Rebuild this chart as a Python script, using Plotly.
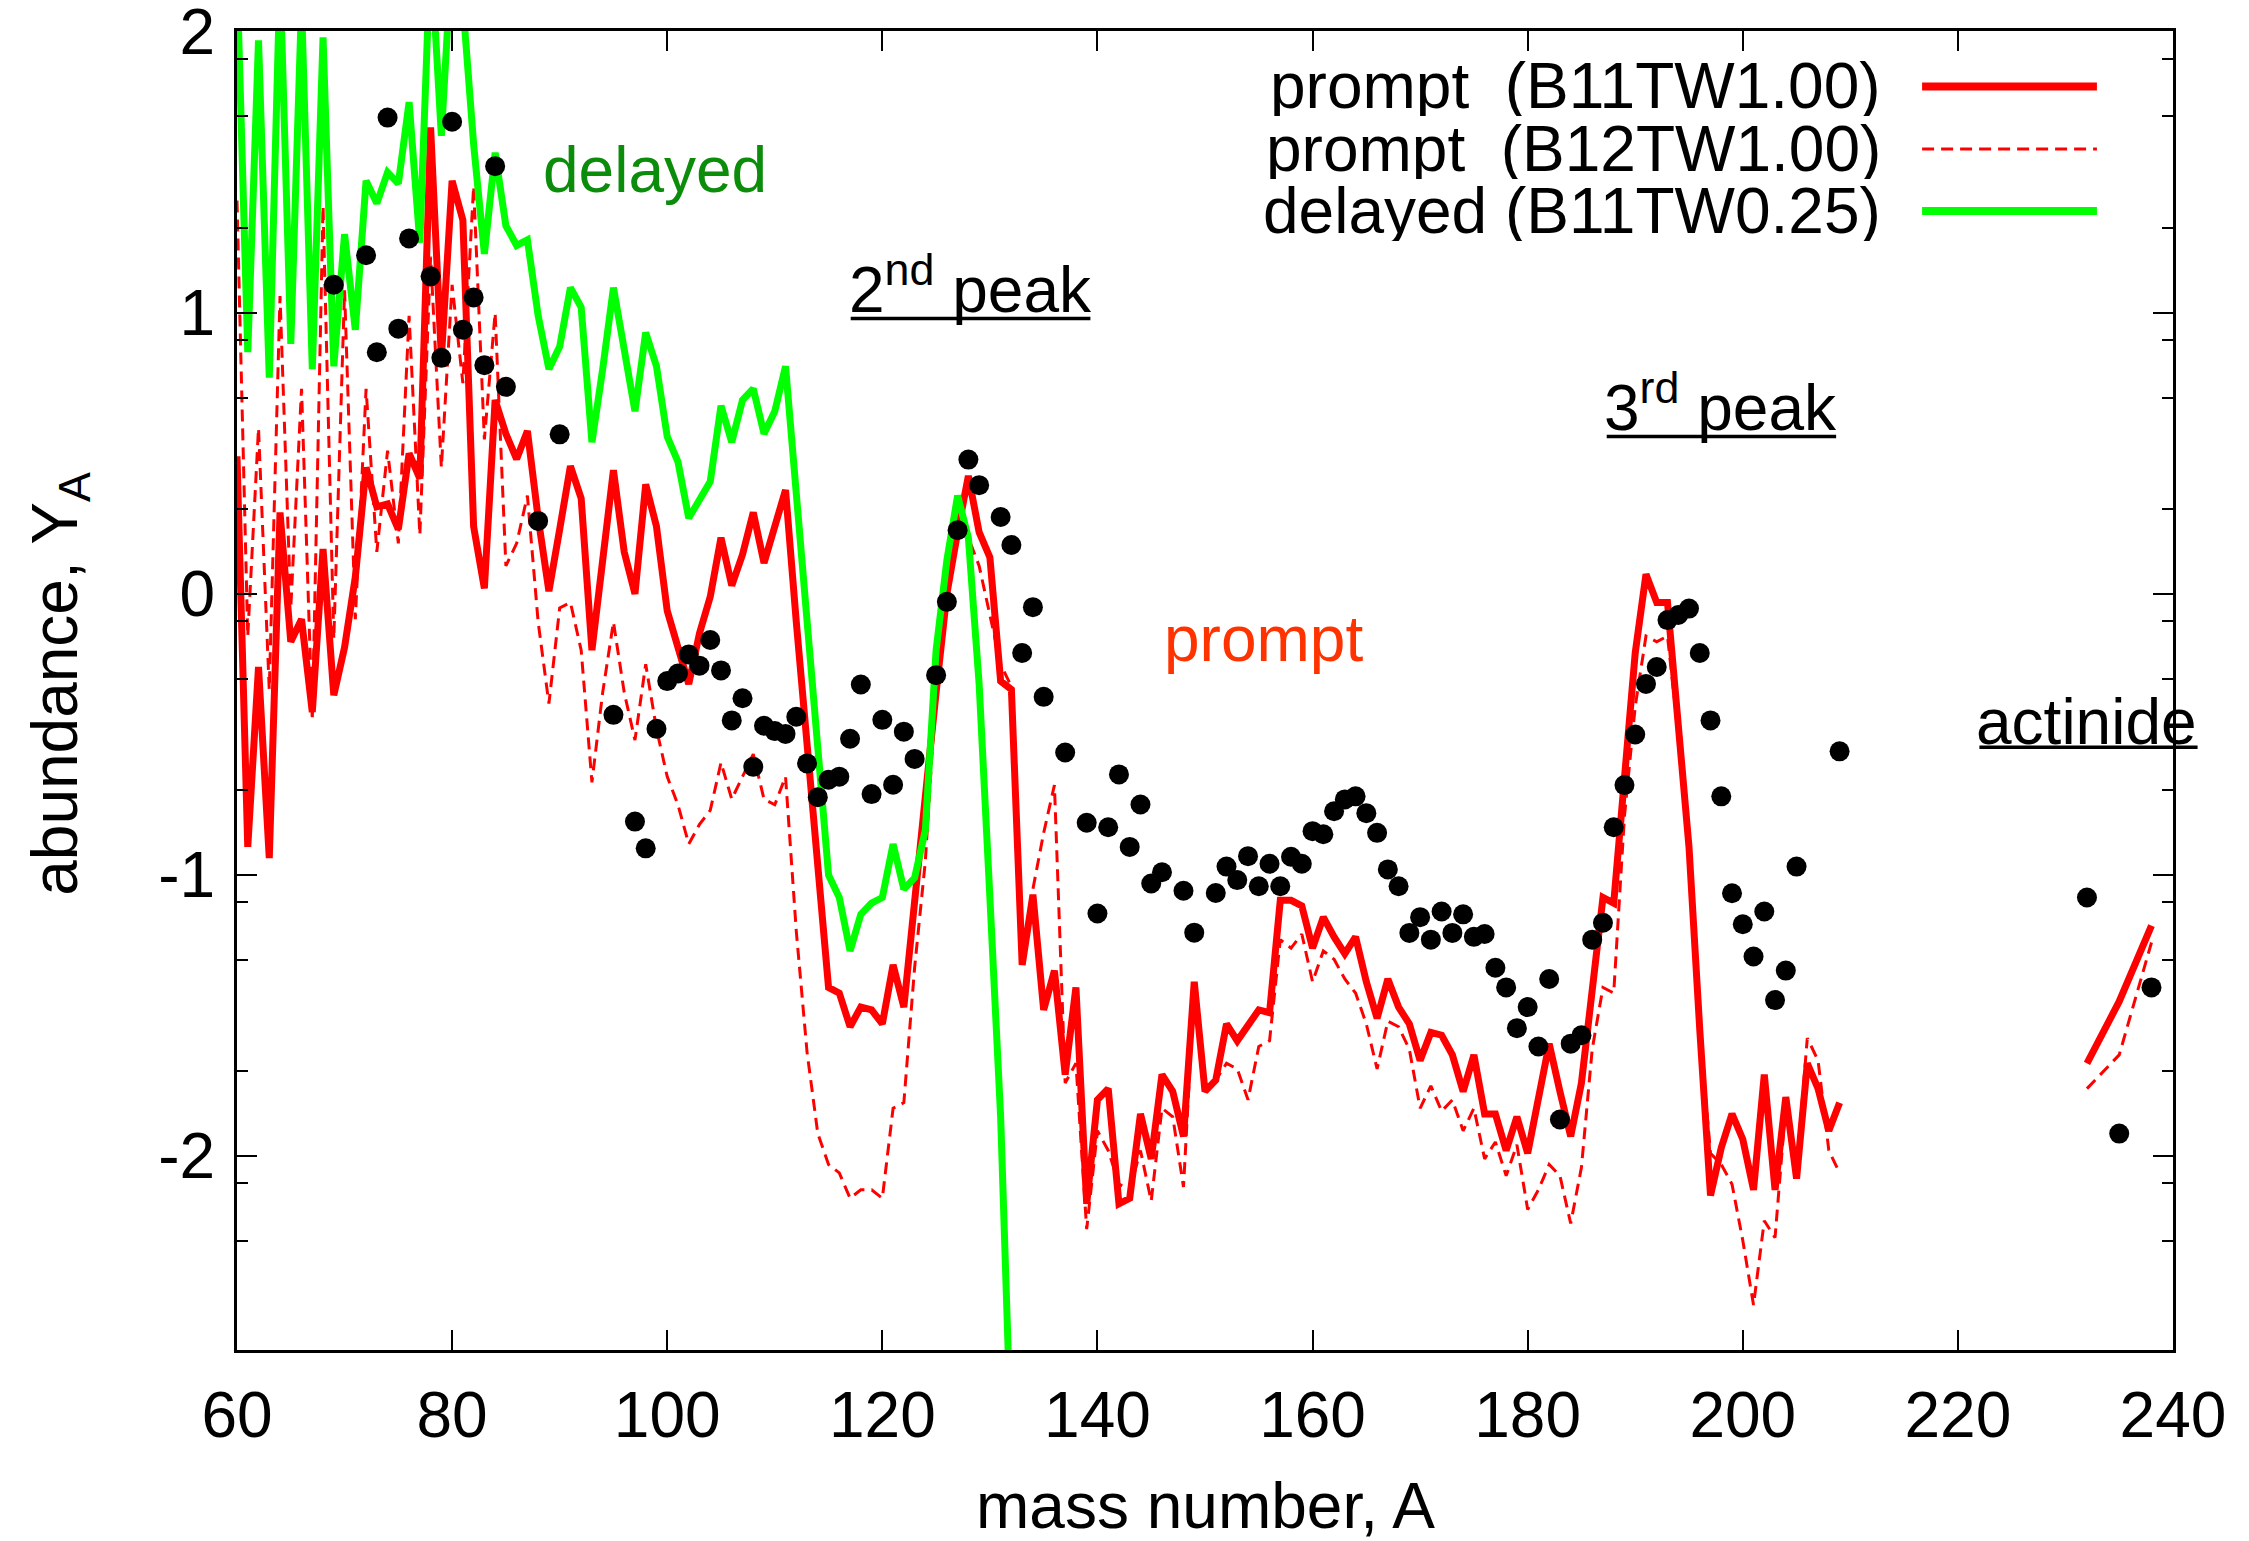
import plotly.graph_objects as go

# ---------------- data ----------------
A_main = list(range(60, 210))

# prompt r-process, model B11TW1.00 (log10 abundance)
prompt_b11 = [
    0.49, -0.90, -0.26, -0.94, 0.29, -0.17, -0.09, -0.42, 0.16, -0.36,
    -0.19, 0.06, 0.45, 0.31, 0.32, 0.23, 0.50, 0.41, 1.66, 0.84,
    1.47, 1.33, 0.24, 0.02, 0.69, 0.57, 0.48, 0.58, 0.27, 0.01,
    0.23, 0.455, 0.34, -0.20, 0.12, 0.44, 0.15, 0.00, 0.39, 0.24,
    -0.06, -0.18, -0.32, -0.14, -0.01, 0.20, 0.03, 0.14, 0.29, 0.11,
    0.23, 0.37, -0.10, -0.55, -1.00, -1.40, -1.42, -1.54, -1.47, -1.48,
    -1.53, -1.32, -1.47, -1.12, -0.72, -0.35, 0.00, 0.22, 0.42, 0.22,
    0.13, -0.31, -0.34, -1.32, -1.07, -1.48, -1.34, -1.71, -1.40, -2.17,
    -1.80, -1.76, -2.17, -2.15, -1.85, -2.01, -1.71, -1.77, -1.93, -1.38,
    -1.77, -1.73, -1.53, -1.59, -1.54, -1.48, -1.49, -1.09, -1.09, -1.11,
    -1.26, -1.15, -1.22, -1.28, -1.22, -1.38, -1.51, -1.37, -1.47, -1.53,
    -1.66, -1.56, -1.57, -1.64, -1.77, -1.64, -1.85, -1.85, -1.98, -1.86,
    -1.99, -1.80, -1.60, -1.77, -1.93, -1.74, -1.40, -1.08, -1.10, -0.65,
    -0.21, 0.07, -0.03, -0.03, -0.45, -0.90, -1.55, -2.14, -1.97, -1.85,
    -1.94, -2.12, -1.71, -2.12, -1.79, -2.08, -1.67, -1.76, -1.91, -1.81,
]

# prompt r-process, model B12TW1.00
prompt_b12 = [
    1.40, -0.15, 0.59, -0.34, 1.06, -0.05, 0.73, -0.45, 1.38, -0.16,
    1.08, -0.09, 0.73, 0.15, 0.51, 0.18, 0.99, 0.21, 1.20, 0.45,
    1.10, 0.75, 1.45, 0.55, 1.00, 0.10, 0.18, 0.35, -0.10, -0.39,
    -0.05, -0.03, -0.20, -0.67, -0.35, -0.10, -0.35, -0.52, -0.25, -0.48,
    -0.65, -0.75, -0.89, -0.82, -0.77, -0.60, -0.73, -0.65, -0.57, -0.73,
    -0.75, -0.65, -1.20, -1.63, -1.92, -2.03, -2.06, -2.15, -2.12, -2.12,
    -2.15, -1.83, -1.81, -1.33, -0.95, -0.33, 0.00, 0.25, 0.20, 0.10,
    -0.08, -0.25, -0.33, -1.30, -1.05, -0.85, -0.68, -1.74, -1.67, -2.26,
    -1.91, -1.98, -2.10, -2.12, -1.98, -2.16, -1.83, -1.86, -2.11, -1.40,
    -1.77, -1.73, -1.67, -1.69, -1.80, -1.61, -1.59, -1.23, -1.26, -1.21,
    -1.38, -1.27, -1.30, -1.37, -1.42, -1.53, -1.69, -1.52, -1.54, -1.62,
    -1.83, -1.75, -1.84, -1.80, -1.91, -1.83, -2.01, -1.95, -2.07, -1.96,
    -2.19, -2.12, -2.03, -2.07, -2.24, -2.04, -1.62, -1.40, -1.42, -0.79,
    -0.40, -0.15, -0.17, -0.15, -0.50, -0.92, -1.55, -1.99, -2.03, -2.10,
    -2.30, -2.53, -2.23, -2.29, -1.82, -2.05, -1.58, -1.66, -1.98, -2.06,
]

# actinide region of both prompt models
A_act = [232, 235, 238]
prompt_b11_act = [-1.67, -1.45, -1.18]
prompt_b12_act = [-1.76, -1.64, -1.24]

# delayed r-process, model B11TW0.25
A_delayed = list(range(60, 133))
delayed_b11 = [
    2.20, 0.86, 1.97, 0.77, 2.20, 0.89, 2.10, 0.80, 1.98, 0.81,
    1.28, 0.94, 1.47, 1.39, 1.50, 1.46, 1.75, 1.25, 2.30, 1.63,
    2.30, 2.10, 1.60, 1.21, 1.57, 1.31, 1.24, 1.26, 0.99, 0.80,
    0.88, 1.09, 1.02, 0.54, 0.80, 1.09, 0.87, 0.65, 0.93, 0.81,
    0.56, 0.47, 0.27, 0.33, 0.40, 0.67, 0.54, 0.69, 0.73, 0.57,
    0.65, 0.81, 0.35, -0.10, -0.55, -1.00, -1.08, -1.27, -1.14, -1.10,
    -1.08, -0.89, -1.05, -1.01, -0.84, -0.20, 0.12, 0.35, 0.20, -0.32,
    -1.08, -1.86, -3.05,
]

# solar-system r-process residuals
A_solar = [
    69, 72, 73, 74, 75, 76, 78, 79, 80, 81, 82, 83, 84, 85, 88, 90,
    95, 97, 98, 99, 100, 101, 102, 103, 104, 105, 106, 107, 108, 109,
    110, 111, 112, 113, 114, 115, 116, 117, 118, 119, 120, 121, 122, 123,
    125, 126, 127, 128, 129, 131, 132, 133, 134, 135, 137, 139, 140, 141,
    142, 143, 144, 145, 146, 148, 149, 151, 152, 153, 154, 155, 156, 157,
    158, 159, 160, 161, 162, 163, 164, 165, 166, 167, 168, 169, 170, 171,
    172, 173, 174, 175, 176, 177, 178, 179, 180, 181, 182, 183, 184, 185,
    186, 187, 188, 189, 190, 191, 192, 193, 194, 195, 196, 197, 198, 199,
    200, 201, 202, 203, 204, 205, 209, 232, 235, 238,
]
Y_solar = [
    1.10, 1.205, 0.86, 1.695, 0.944, 1.265, 1.13, 0.84, 1.68, 0.94, 1.055, 0.814, 1.522, 0.737, 0.26, 0.568,
    -0.43, -0.81, -0.905, -0.48, -0.31, -0.283, -0.215, -0.255, -0.164, -0.272, -0.45, -0.371, -0.615, -0.469,
    -0.488, -0.498, -0.437, -0.603, -0.723, -0.661, -0.65, -0.515, -0.322, -0.712, -0.448, -0.679, -0.49, -0.587,
    -0.289, -0.028, 0.227, 0.478, 0.387, 0.274, 0.174, -0.21, -0.047, -0.366, -0.564, -0.814, -1.137, -0.83,
    -0.642, -0.90, -0.749, -1.03, -0.99, -1.056, -1.205, -1.064, -0.97, -1.018, -0.933, -1.04, -0.96, -1.04,
    -0.935, -0.96, -0.844, -0.855, -0.773, -0.731, -0.72, -0.78, -0.85, -0.98, -1.04, -1.206, -1.15, -1.23,
    -1.13, -1.206, -1.14, -1.22, -1.21, -1.33, -1.40, -1.545, -1.47, -1.61, -1.37, -1.87, -1.60, -1.57,
    -1.23, -1.17, -0.83, -0.68, -0.50, -0.32, -0.26, -0.093, -0.075, -0.052, -0.21, -0.45, -0.72, -1.065,
    -1.175, -1.29, -1.13, -1.445, -1.34, -0.97, -0.56, -1.08, -1.92, -1.40,
]

x_ticks = [60, 80, 100, 120, 140, 160, 180, 200, 220, 240]
y_ticks = [-2, -1, 0, 1, 2]
y_tick_text = ["-2", "-1", "0", "1", "2"]
y_minor = [-2.301, -2.097, -1.699, -1.301, -1.097, -0.699, -0.301, -0.097,
           0.301, 0.699, 0.903, 1.301, 1.699, 1.903]

legend_labels = ["prompt\u00a0\u00a0(B11TW1.00)", "prompt\u00a0\u00a0(B12TW1.00)", "delayed (B11TW0.25)"]

# ---------------- style ----------------
FONT = "Liberation Sans, Arial, Helvetica, sans-serif"
RED = "#ff0000"
GREEN = "#00ff00"
FS = 64
SOLID_W = 7
DASH_W = 3
DASH = "12px,7px"

fig = go.Figure()

fig.add_trace(go.Scatter(x=A_main, y=prompt_b11, mode="lines",
                         line=dict(color=RED, width=SOLID_W)))
fig.add_trace(go.Scatter(x=A_act, y=prompt_b11_act, mode="lines",
                         line=dict(color=RED, width=SOLID_W)))
fig.add_trace(go.Scatter(x=A_main, y=prompt_b12, mode="lines",
                         line=dict(color=RED, width=DASH_W, dash=DASH)))
fig.add_trace(go.Scatter(x=A_act, y=prompt_b12_act, mode="lines",
                         line=dict(color=RED, width=DASH_W, dash=DASH)))
fig.add_trace(go.Scatter(x=A_delayed, y=delayed_b11, mode="lines",
                         line=dict(color=GREEN, width=SOLID_W)))
fig.add_trace(go.Scatter(x=A_solar, y=Y_solar, mode="markers",
                         marker=dict(color="black", size=20, line=dict(width=0))))

# labels inside the plot
annotations = [
    dict(x=98.9, y=1.51, text="delayed", font=dict(color="#0b8c0b", size=FS)),
    dict(x=128.2, y=1.10, text="2<sup>nd</sup> peak", font=dict(color="black", size=FS)),
    dict(x=197.9, y=0.68, text="3<sup>rd</sup> peak", font=dict(color="black", size=FS)),
    dict(x=155.4, y=-0.16, text="prompt", font=dict(color="#ff3300", size=FS)),
    dict(x=232.0, y=-0.455, text="actinide", font=dict(color="black", size=FS)),
]
for a in annotations:
    a.update(xref="x", yref="y", showarrow=False, xanchor="center", yanchor="middle")

# axis titles
annotations.append(dict(xref="paper", yref="paper", x=-0.092, y=0.505, textangle=-90,
                        text="abundance, Y<sub>A</sub>", showarrow=False,
                        xanchor="center", yanchor="middle", font=dict(size=FS)))
annotations.append(dict(xref="paper", yref="paper", x=0.5, y=-0.118,
                        text="mass number, A", showarrow=False,
                        xanchor="center", yanchor="middle", font=dict(size=FS)))

shapes = []

# underlines of the region labels (paper coordinates)
underlines = [(0.3170, 0.4408, 0.7820), (0.7075, 0.8260, 0.6925), (0.9000, 1.0127, 0.4570)]
for x0, x1, uy in underlines:
    shapes.append(dict(type="line", xref="paper", yref="paper", x0=x0, x1=x1,
                       y0=uy, y1=uy, line=dict(color="black", width=3.5)))

# key in the upper right corner
key_y = [0.958, 0.9105, 0.8635]
key_styles = [dict(color=RED, width=8), dict(color=RED, width=DASH_W, dash=DASH),
              dict(color=GREEN, width=8)]
for lab, ky, st in zip(legend_labels, key_y, key_styles):
    annotations.append(dict(xref="paper", yref="paper", x=0.850, y=ky, text=lab,
                            showarrow=False, xanchor="right", yanchor="middle",
                            height=60, valign="middle", font=dict(size=FS)))
    shapes.append(dict(type="line", xref="paper", yref="paper", x0=0.8704, x1=0.9607,
                       y0=ky, y1=ky, line=st))

axis_common = dict(showline=True, linecolor="black", linewidth=3, mirror="ticks",
                   ticks="inside", tickcolor="black", tickwidth=2, ticklen=20,
                   showgrid=False, zeroline=False, ticklabeloverflow="allow",
                   tickfont=dict(size=FS, color="black"))

fig.update_layout(
    template="none",
    width=2249, height=1541,
    margin=dict(l=237, r=76, t=31, b=191),
    paper_bgcolor="white", plot_bgcolor="white",
    showlegend=False,
    font=dict(family=FONT, size=FS, color="black"),
    xaxis=dict(range=[60, 240], tickvals=x_ticks, ticklabelstandoff=7, **axis_common),
    yaxis=dict(range=[-2.69, 2.003], tickvals=y_ticks, ticktext=y_tick_text,
               ticklabelstandoff=6,
               minor=dict(tickvals=y_minor, ticks="inside", ticklen=11,
                          tickcolor="black", tickwidth=2),
               **axis_common),
    annotations=annotations,
    shapes=shapes,
)

fig.write_html("out.html")
